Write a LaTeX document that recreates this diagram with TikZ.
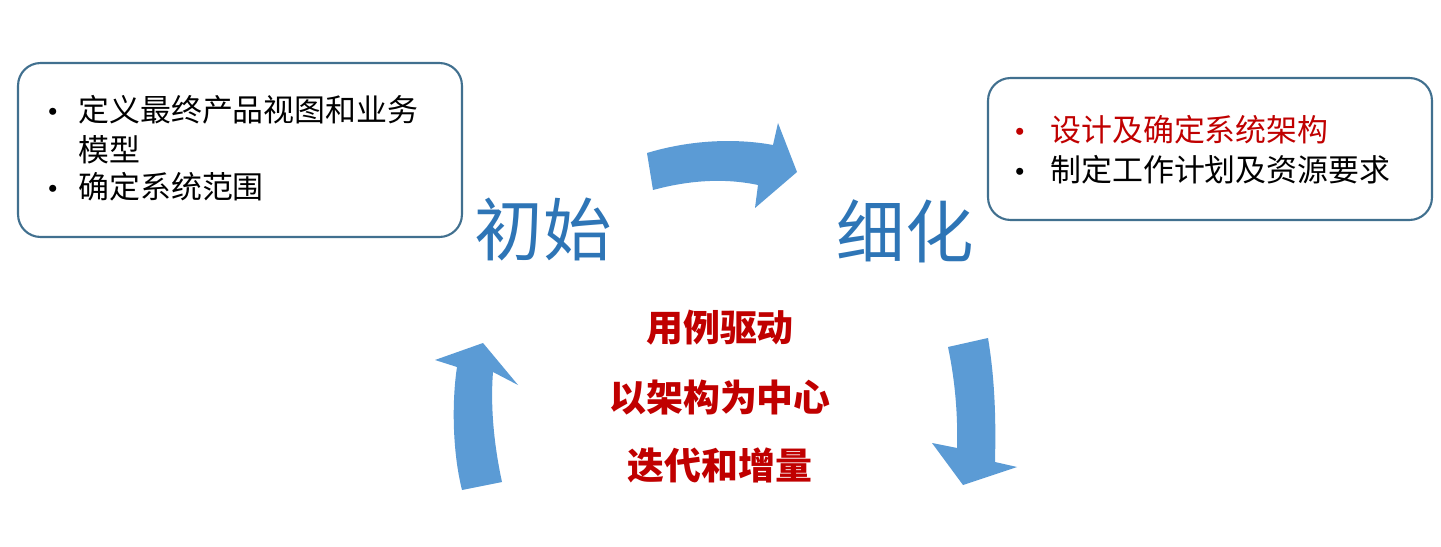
\documentclass[tikz,border=0pt]{standalone}
\usepackage{fontspec}
\setmainfont{Noto Sans CJK SC}
\definecolor{boxline}{HTML}{41708F}
\definecolor{phaseblue}{HTML}{2E75B6}
\definecolor{arrowblue}{HTML}{5B9BD5}
\definecolor{corered}{HTML}{C00000}
\begin{document}
\begin{tikzpicture}[x=0.02cm, y=-0.02cm,
		box/.style={draw=boxline, line width=1.2pt, rounded corners=0.45cm, minimum width=8.88cm},
		item/.style={anchor=west, inner sep=0pt, font=\fontsize{17.6}{20}\selectfont},
		dot/.style={item, yshift=-0.12cm, font=\fontsize{19}{20}\selectfont},
		phase/.style={text=phaseblue, inner sep=0pt, font=\fontsize{39}{44}\selectfont},
		core/.style={text=corered, inner sep=0pt, font=\fontsize{21}{25}\selectfont\bfseries},
		turn/.style={fill=arrowblue, draw=none}]
		\useasboundingbox[fill=white] (0,0) rectangle (1441,547);

		% Boxes
		\node[box, minimum height=3.48cm] (initbox) at (240,150) {};
		\node[box, minimum height=2.84cm] (elabbox) at (1210,149) {};

		% Left box items
		\node[dot] (ib1) at (36,110) {•};
		\node[item] (it1) at (78,110) {定义最终产品视图和业务};
		\node[item] (it2) at (78,150) {模型};
		\node[dot] (ib3) at (36,187) {•};
		\node[item] (it3) at (78,187) {确定系统范围};

		% Right box items
		\node[dot, text=corered] (eb1) at (1003,130) {•};
		\node[item, text=corered] (et1) at (1050,130) {设计及确定系统架构};
		\node[dot] (eb2) at (1003,170) {•};
		\node[item] (et2) at (1050,170) {制定工作计划及资源要求};

		% Phases
		\node[phase] (init) at (543,229) {初始};
		\node[phase] (elab) at (905,231) {细化};

		% Centre
		\foreach \i/\y/\t in {1/328/用例驱动, 2/398/以架构为中心, 3/465/迭代和增量}
		\node[core] (core\i) at (720,\y) {\t};

		% Arrows
		\fill[turn] (647,153) .. controls (690,140) and (735,138) .. (773,145) -- (778,123) -- (797,172)
			-- (755,208) -- (758,185) .. controls (725,178) and (690,180) .. (653,190) -- cycle;
		\fill[turn] (948,347) -- (988,338) .. controls (995,380) and (996,420) .. (995,462) -- (1017,467)
			-- (963,485) -- (932,443) -- (957,448) .. controls (958,415) and (955,380) .. (948,347) -- cycle;
		\fill[turn] (462,490) .. controls (452,450) and (452,400) .. (457,367) -- (435,360) -- (483,343)
			-- (518,385) -- (493,372) .. controls (490,410) and (495,450) .. (502,482) -- cycle;
	\end{tikzpicture}
\end{document}
